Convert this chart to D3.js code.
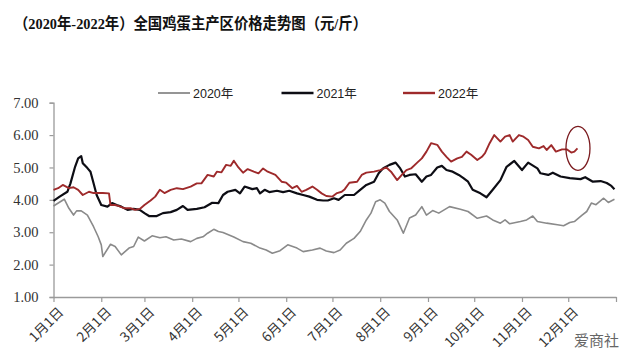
<!DOCTYPE html>
<html>
<head>
<meta charset="utf-8">
<script src="https://cdn.jsdelivr.net/npm/d3@7"></script>
<style>
  body { margin: 0; background: #fff; }
  svg { display: block; }
</style>
</head>
<body>
<script>
// day offsets from 1 Jan and prices (yuan/jin)
var days2020 = [0, 7, 10, 13, 15, 18, 22, 26, 29, 31, 32, 37, 40, 44, 49, 52, 55, 59, 64, 69, 73, 78, 83, 89, 93, 97, 100, 104, 107, 110, 117, 123, 128, 134, 138, 142, 147, 152, 158, 162, 168, 173, 177, 182, 186, 190, 195, 199, 203, 206, 209, 212, 215, 218, 223, 227, 231, 235, 239, 242, 246, 250, 257, 264, 269, 275, 281, 285, 290, 293, 296, 303, 307, 311, 314, 320, 327, 331, 335, 338, 343, 346, 349, 352, 357, 360, 364];
var vals2020 = [3.81, 4.02, 3.74, 3.53, 3.66, 3.66, 3.53, 3.17, 2.86, 2.61, 2.25, 2.63, 2.56, 2.30, 2.51, 2.56, 2.85, 2.73, 2.89, 2.83, 2.86, 2.76, 2.79, 2.71, 2.81, 2.86, 2.97, 3.09, 3.02, 2.99, 2.85, 2.71, 2.66, 2.51, 2.45, 2.35, 2.43, 2.61, 2.51, 2.40, 2.45, 2.51, 2.42, 2.37, 2.45, 2.66, 2.81, 3.02, 3.38, 3.59, 3.94, 4.00, 3.90, 3.64, 3.38, 2.97, 3.44, 3.53, 3.79, 3.53, 3.67, 3.59, 3.79, 3.71, 3.64, 3.43, 3.50, 3.38, 3.28, 3.38, 3.26, 3.33, 3.38, 3.50, 3.33, 3.28, 3.23, 3.20, 3.30, 3.33, 3.53, 3.64, 3.90, 3.85, 4.05, 3.92, 4.02];

var days2021 = [0, 4, 9, 11, 14, 16, 18, 19, 22, 24, 26, 28, 31, 35, 38, 41, 44, 48, 52, 56, 59, 62, 67, 71, 76, 80, 84, 87, 93, 98, 103, 107, 110, 113, 118, 121, 124, 129, 132, 134, 137, 140, 145, 149, 153, 158, 162, 166, 171, 175, 178, 182, 185, 189, 195, 199, 203, 208, 211, 214, 218, 222, 225, 228, 231, 235, 239, 242, 245, 249, 252, 255, 259, 263, 266, 269, 272, 277, 281, 285, 290, 294, 299, 304, 308, 314, 316, 321, 324, 329, 335, 342, 345, 350, 355, 359, 362, 364];
var vals2021 = [3.97, 4.10, 4.25, 4.51, 5.02, 5.28, 5.35, 5.13, 4.98, 4.87, 4.51, 4.15, 3.84, 3.79, 3.90, 3.84, 3.79, 3.69, 3.72, 3.69, 3.59, 3.50, 3.50, 3.59, 3.62, 3.69, 3.81, 3.69, 3.72, 3.77, 3.91, 3.90, 4.15, 4.25, 4.31, 4.20, 4.41, 4.33, 4.36, 4.20, 4.31, 4.24, 4.28, 4.24, 4.28, 4.20, 4.15, 4.10, 4.00, 3.98, 3.98, 4.05, 4.00, 4.15, 4.15, 4.31, 4.46, 4.56, 4.82, 4.98, 5.08, 5.15, 4.97, 4.72, 4.77, 4.79, 4.56, 4.72, 4.77, 5.00, 5.05, 4.92, 4.87, 4.77, 4.67, 4.56, 4.31, 4.20, 4.08, 4.31, 4.61, 5.02, 5.20, 4.92, 5.15, 4.97, 4.82, 4.77, 4.84, 4.72, 4.67, 4.64, 4.70, 4.56, 4.58, 4.52, 4.43, 4.33];

var days2022 = [0, 3, 6, 10, 13, 16, 19, 23, 26, 29, 32, 36, 37, 40, 43, 46, 50, 53, 56, 59, 63, 66, 69, 72, 76, 80, 84, 89, 93, 96, 100, 104, 106, 109, 112, 115, 117, 120, 123, 126, 130, 133, 136, 139, 144, 148, 151, 155, 158, 161, 164, 168, 171, 174, 177, 181, 184, 187, 189, 192, 197, 200, 203, 208, 212, 216, 219, 223, 226, 229, 232, 236, 239, 242, 245, 249, 252, 255, 258, 262, 265, 268, 271, 275, 278, 280, 283, 286, 290, 293, 296, 298, 302, 305, 308, 311, 315, 318, 320, 323, 326, 330, 333, 336, 338, 340];
var vals2022 = [4.31, 4.36, 4.46, 4.36, 4.39, 4.31, 4.15, 4.25, 4.21, 4.21, 4.21, 4.20, 3.84, 3.84, 3.80, 3.74, 3.74, 3.69, 3.72, 3.84, 3.98, 4.10, 4.31, 4.21, 4.31, 4.36, 4.33, 4.41, 4.51, 4.51, 4.77, 4.72, 4.87, 4.85, 5.08, 5.05, 5.21, 5.00, 4.84, 4.95, 4.87, 4.82, 4.97, 4.87, 4.77, 4.56, 4.53, 4.36, 4.43, 4.25, 4.31, 4.41, 4.31, 4.20, 4.12, 4.10, 4.21, 4.25, 4.33, 4.53, 4.56, 4.77, 4.84, 4.87, 4.92, 5.00, 4.87, 4.61, 4.77, 4.92, 4.97, 5.15, 5.28, 5.49, 5.75, 5.70, 5.49, 5.33, 5.18, 5.28, 5.33, 5.49, 5.39, 5.23, 5.33, 5.44, 5.75, 6.00, 5.80, 5.95, 6.00, 5.80, 6.00, 5.95, 5.85, 5.64, 5.59, 5.66, 5.54, 5.69, 5.49, 5.56, 5.56, 5.46, 5.49, 5.59];

var seriesNames = ["2020年", "2021年", "2022年"];
var seriesColors = ["#8a8a8a", "#0d0d14", "#9e2a2b"];
var seriesWidths = [1.6, 2.2, 1.9];

var monthStarts = [0, 31, 59, 90, 120, 151, 181, 212, 243, 273, 304, 334, 365];
var monthLabels = ["1月1日", "2月1日", "3月1日", "4月1日", "5月1日", "6月1日", "7月1日", "8月1日", "9月1日", "10月1日", "11月1日", "12月1日", ""];
var yTicks = [1, 2, 3, 4, 5, 6, 7];

var width = 640;
var height = 362;

var svg = d3.select("body").append("svg")
    .attr("width", width)
    .attr("height", height);

var x = d3.scaleLinear().domain([0, 365]).range([53.5, 616]);
var y = d3.scaleLinear().domain([1, 7]).range([297, 102.7]);

// title
svg.append("text")
    .attr("x", 14)
    .attr("y", 29)
    .attr("textLength", 353)
    .attr("lengthAdjust", "spacingAndGlyphs")
    .style("font-family", "'Liberation Serif', 'Noto Sans CJK SC', serif")
    .style("font-weight", "bold")
    .style("font-size", "15.5px")
    .style("fill", "#111")
    .text("（2020年-2022年）全国鸡蛋主产区价格走势图（元/斤）");

/*
 * AXES
 */
var yAxis = svg.append("g")
    .attr("transform", "translate(" + x(0) + ",0)")
    .call(d3.axisLeft(y).tickValues(yTicks).tickSize(4).tickPadding(11)
        .tickFormat(function(d){ return d3.format(".2f")(d); }));
yAxis.select(".domain").attr("stroke", "#9a9a9a").attr("stroke-width", 1.3);
yAxis.selectAll(".tick line").attr("stroke", "#9a9a9a").attr("stroke-width", 1.2);
yAxis.selectAll("text")
    .style("font-family", "'Liberation Serif', serif")
    .style("font-size", "14.5px")
    .style("fill", "#333");

var xAxis = svg.append("g")
    .attr("transform", "translate(0," + y(1) + ")")
    .call(d3.axisBottom(x).tickValues(monthStarts).tickSize(5).tickSizeOuter(0)
        .tickFormat(function(d, i){ return monthLabels[i]; }));
xAxis.select(".domain").attr("stroke", "#9a9a9a").attr("stroke-width", 1.3);
xAxis.selectAll(".tick line").attr("stroke", "#9a9a9a").attr("stroke-width", 1.2);
xAxis.selectAll("text")
    .attr("x", -4)
    .attr("y", 14)
    .attr("dy", "0.35em")
    .attr("transform", "rotate(-45)")
    .style("text-anchor", "end")
    .style("font-family", "'Noto Sans CJK SC', sans-serif")
    .style("font-size", "13.5px")
    .style("fill", "#333");

/*
 * LINES
 */
var allDays = [days2020, days2021, days2022];
var allVals = [vals2020, vals2021, vals2022];

var line = d3.line()
    .x(function(d){ return x(d[0]); })
    .y(function(d){ return y(d[1]); });

allDays.forEach(function(ds, i){
    var pts = ds.map(function(d, j){ return [d, allVals[i][j]]; });
    svg.append("path")
        .datum(pts)
        .attr("d", line)
        .attr("fill", "none")
        .attr("stroke", seriesColors[i])
        .attr("stroke-width", seriesWidths[i])
        .attr("stroke-linejoin", "round");
});

// circle around the latest 2022 price
var lastDay = days2022[days2022.length - 1];
var lastVal = vals2022[vals2022.length - 1];
svg.append("ellipse")
    .attr("cx", x(lastDay) + 0.5)
    .attr("cy", y(lastVal))
    .attr("rx", 12)
    .attr("ry", 22)
    .attr("fill", "none")
    .attr("stroke", "#7a1a1e")
    .attr("stroke-width", 1.3);

/*
 * LEGEND
 */
var legendX = [158, 281.5, 403];
var legend = svg.selectAll("g.legend")
        .data(seriesNames)
    .enter().append("g")
        .attr("class", "legend")
        .attr("transform", function(d, i){ return "translate(" + legendX[i] + ",93)"; });
legend.append("line")
    .attr("x1", 0)
    .attr("x2", 32)
    .attr("stroke", function(d, i){ return seriesColors[i]; })
    .attr("stroke-width", function(d, i){ return i === 0 ? 1.8 : 2.4; });
legend.append("text")
    .attr("x", 35)
    .attr("dy", "0.36em")
    .style("font-family", "'Liberation Sans', 'Noto Sans CJK SC', sans-serif")
    .style("font-size", "12.5px")
    .style("fill", "#222")
    .text(function(d){ return d; });

// watermark
svg.append("text")
    .attr("x", 574)
    .attr("y", 346)
    .style("font-family", "'Noto Sans CJK SC', sans-serif")
    .style("font-size", "15px")
    .style("fill", "#666")
    .text("爱商社");
</script>
</body>
</html>
